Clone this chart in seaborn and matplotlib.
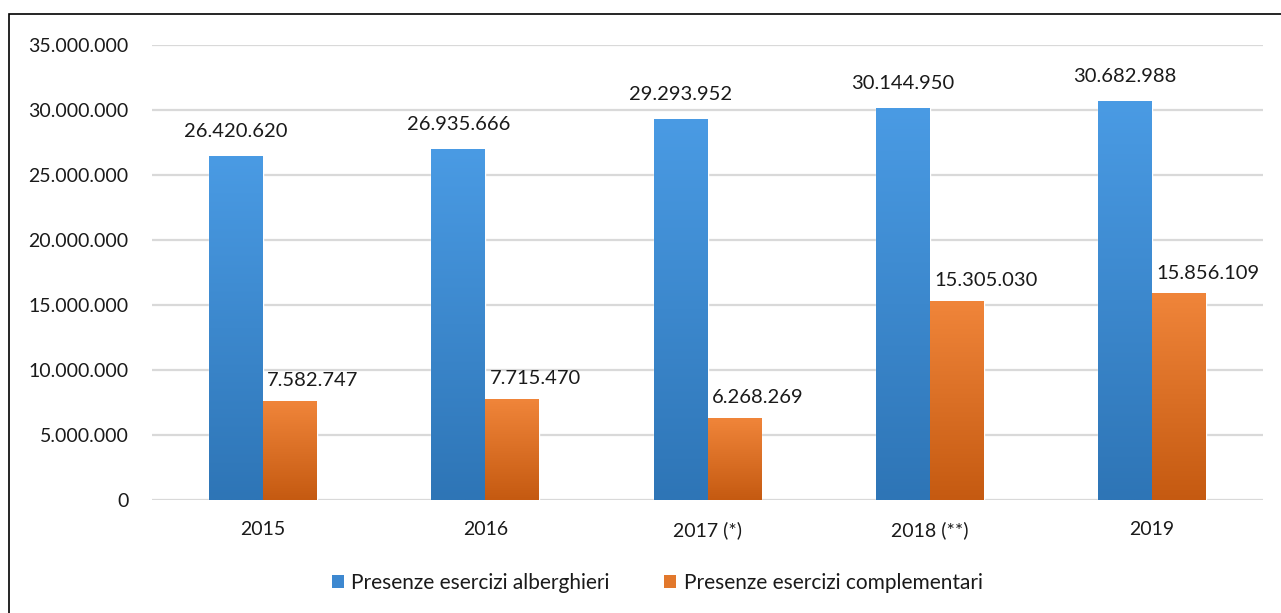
import numpy as np
import pandas as pd
import seaborn as sns
import matplotlib.pyplot as plt
from matplotlib.patches import Patch, Rectangle
from matplotlib.colors import LinearSegmentedColormap

###################
# Data
years = ["2015", "2016", "2017 (*)", "2018 (**)", "2019"]
alberghieri = [26420620, 26935666, 29293952, 30144950, 30682988]
complementari = [7582747, 7715470, 6268269, 15305030, 15856109]
series_names = ["Presenze esercizi alberghieri", "Presenze esercizi complementari"]
y_ticks = [0, 5000000, 10000000, 15000000, 20000000, 25000000, 30000000, 35000000]

data = pd.DataFrame({"Anno": years, series_names[0]: alberghieri, series_names[1]: complementari})
data = pd.melt(data, ["Anno"], var_name="Serie", value_name="Presenze")

###################
# Setup
sns.set_style("white")
plt.rcParams["font.family"] = ["Lato", "DejaVu Sans"]
text_color = "#1a1a1a"
grads = {
    series_names[0]: ("#2e75b6", "#4a9be4"),
    series_names[1]: ("#c55a11", "#f0853a"),
}
mid_colors = ["#3d88d0", "#e2782c"]

fig = plt.figure(figsize=(12.81, 6.13), dpi=100)
ax = fig.add_axes([152 / 1281, 113 / 613, 1111 / 1281, 455 / 613])

sns.barplot(data, ax=ax, x="Anno", y="Presenze", hue="Serie", palette=mid_colors,
            width=0.486, gap=0, dodge=True, saturation=1, legend=False)

# gradient fill for each bar
for container, name in zip(ax.containers, series_names):
    cmap = LinearSegmentedColormap.from_list(name, grads[name])
    for bar in container:
        x0, w, h = bar.get_x(), bar.get_width(), bar.get_height()
        grad = np.linspace(1, 0, 256).reshape(-1, 1)
        ax.imshow(grad, cmap=cmap, aspect="auto", extent=(x0, x0 + w, 0, h),
                  zorder=bar.get_zorder() + 0.1, interpolation="bilinear")

ax.set_xlim(-0.5, len(years) - 0.5)
ax.set_ylim(0, 35000000)
ax.set_yticks(y_ticks)
ax.set_yticklabels([f"{v:,}".replace(",", ".") for v in y_ticks])
ax.grid(axis="y", color="#d9d9d9", linewidth=1.6)
ax.set_axisbelow(True)
ax.tick_params(axis="y", length=0, pad=17, labelsize=14, labelcolor=text_color)
ax.tick_params(axis="x", length=0, pad=15, labelsize=14, labelcolor=text_color)
ax.set_xlabel("")
ax.set_ylabel("")
sns.despine(ax=ax, left=True, bottom=True, top=True, right=True)

###################
# Data labels
fmt = lambda v: f"{int(v):,}".replace(",", ".")
for bar in ax.containers[0]:
    ax.annotate(fmt(bar.get_height()), (bar.get_x() + bar.get_width() / 2, bar.get_height()),
                xytext=(0, 18), textcoords="offset points", ha="center", va="center",
                fontsize=14.5, color=text_color)
for bar in ax.containers[1]:
    ax.annotate(fmt(bar.get_height()), (bar.get_x(), bar.get_height()),
                xytext=(3, 15), textcoords="offset points", ha="left", va="center",
                fontsize=14.5, color=text_color)

###################
# Legend
handles = [Patch(facecolor=c, edgecolor="none") for c in mid_colors]
fig.legend(handles, series_names, loc="center", bbox_to_anchor=(0.513, 0.049), ncol=2,
           frameon=False, fontsize=15, handlelength=0.6, handleheight=0.6,
           handletextpad=0.35, columnspacing=2.6, labelcolor=text_color)

# outer chart frame
fig.patches.append(Rectangle((9 / 1281, -0.5), 2.0, 0.5 + 599 / 613, transform=fig.transFigure,
                             fill=False, edgecolor="black", linewidth=1.2))

###################
# Export
fig.savefig("out.png", dpi=100)
